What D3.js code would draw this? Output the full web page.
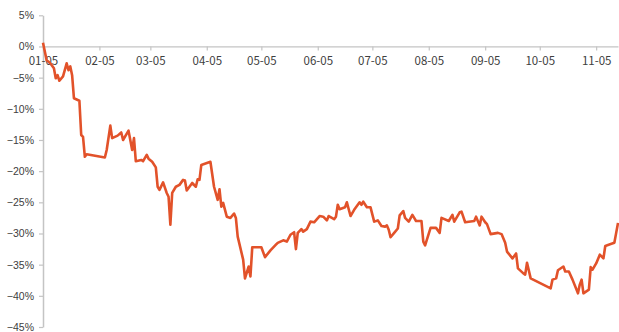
<!DOCTYPE html>
<html>
<head>
<meta charset="utf-8">
<script src="https://cdn.jsdelivr.net/npm/d3@7"></script>
<style>
  body { margin: 0; background: #fff; }
  svg { display: block; }
</style>
</head>
<body>
<svg id="chart" width="619" height="332"></svg>
<script>
// Cumulative return of the portfolio, 2022 (trading days, %)
const year = 2022;
const dates = [
  "01-05","01-07","01-09","01-11","01-12","01-13","01-14","01-16","01-18","01-19",
  "01-20","01-21","01-22","01-25","01-26","01-27","01-28","01-29","02-08","02-09",
  "02-11","02-12","02-15","02-17","02-18","02-21","02-23","02-24","02-25","02-28",
  "03-01","03-03","03-04","03-06","03-08","03-09","03-10","03-12","03-14","03-15",
  "03-16","03-17","03-19","03-21","03-23","03-24","03-25","03-28","03-30","03-31",
  "04-01","04-02","04-07","04-09","04-11","04-12","04-13","04-14","04-16","04-18",
  "04-20","04-21","04-22","04-25","04-26","04-28","04-29","04-30","05-05","05-07",
  "05-10","05-13","05-14","05-17","05-19","05-21","05-23","05-24","05-25","05-27",
  "05-28","05-30","06-01","06-03","06-06","06-08","06-10","06-11","06-14","06-15",
  "06-16","06-17","06-20","06-21","06-23","06-25","06-28","06-29","06-30","07-02",
  "07-04","07-06","07-08","07-10","07-12","07-13","07-14","07-15","07-17","07-19",
  "07-20","07-22","07-23","07-25","07-27","07-28","07-29","08-01","08-02","08-03",
  "08-06","08-09","08-11","08-12","08-16","08-18","08-19","08-22","08-23","08-25",
  "08-30","08-31","09-02","09-03","09-05","09-06","09-08","09-12","09-14","09-16",
  "09-17","09-20","09-22","09-23","09-26","09-27","09-28","09-30","10-11","10-12",
  "10-14","10-15","10-18","10-19","10-21","10-23","10-26","10-27","10-28","10-29",
  "11-01","11-02","11-03","11-05","11-07","11-09","11-10","11-13","11-15","11-16",
  "11-17"
];
const values = [
   0.6, -2.2, -2.7, -3.5, -5.1, -4.6, -5.5, -4.8, -2.7, -3.8,
  -3.2, -4.6, -8.3, -8.7,-14.2,-14.5,-17.7,-17.3,-17.8,-16.6,
 -12.7,-14.7,-14.3,-13.8,-15.0,-13.5,-16.6,-14.7,-18.4,-18.2,
 -18.4,-17.4,-18.0,-18.5,-19.4,-22.5,-23.0,-21.8,-23.5,-24.1,
 -28.6,-23.5,-22.5,-22.2,-21.4,-21.5,-23.1,-21.9,-22.5,-21.3,
 -21.4,-19.0,-18.5,-22.5,-24.6,-22.9,-25.7,-25.1,-27.3,-27.5,
 -26.8,-27.5,-30.5,-34.2,-37.2,-35.3,-36.9,-32.2,-32.2,-33.8,
 -32.7,-31.8,-31.5,-31.1,-31.3,-30.2,-29.8,-32.5,-29.9,-29.3,
 -29.7,-29.3,-28.1,-28.2,-27.2,-27.3,-27.9,-27.2,-27.7,-27.3,
 -25.4,-26.1,-25.8,-25.0,-27.2,-26.2,-25.0,-25.4,-24.9,-25.8,
 -25.8,-28.1,-27.9,-28.8,-28.9,-28.7,-29.4,-30.6,-29.9,-29.2,
 -27.1,-26.4,-27.5,-28.1,-27.0,-27.5,-28.0,-28.0,-31.3,-31.9,
 -29.1,-29.1,-29.9,-27.5,-28.0,-27.0,-28.1,-26.6,-26.5,-28.2,
 -28.0,-27.3,-28.7,-27.3,-28.2,-28.5,-30.1,-29.9,-30.1,-31.5,
 -32.9,-34.0,-33.2,-35.6,-36.4,-36.6,-34.7,-37.2,-38.8,-37.4,
 -37.2,-35.9,-35.3,-36.1,-36.1,-37.4,-39.6,-38.2,-37.4,-39.6,
 -39.0,-35.4,-35.8,-34.8,-33.4,-34.0,-32.0,-31.7,-31.5,-29.9,
 -28.3
];
const xTickLabels = ["01-05","02-05","03-05","04-05","05-05","06-05","07-05","08-05","09-05","10-05","11-05"];
const yTicks = [5, 0, -5, -10, -15, -20, -25, -30, -35, -40, -45];

const parse = d3.timeParse("%Y-%m-%d");
const data = dates.map((d, i) => ({ date: parse(`${year}-${d}`), value: values[i] }));
const xTickDates = xTickLabels.map(l => parse(`${year}-${l}`));

const svg = d3.select("#chart");
const margin = { left: 43, right: 1, top: 15.3, bottom: 5 };
const W = 619, H = 332;

const x = d3.scaleTime()
  .domain(d3.extent(data, d => d.date))
  .range([margin.left, W - margin.right]);
const y = d3.scaleLinear()
  .domain([d3.min(yTicks), d3.max(yTicks)])
  .range([H - margin.bottom, margin.top]);

const axisColor = "#c4c4c4";
const textColor = "#404040";

// y axis
const gy = svg.append("g")
  .attr("transform", `translate(${margin.left},0)`)
  .call(d3.axisLeft(y).tickValues(yTicks).tickSize(4).tickSizeOuter(0).tickPadding(5)
    .tickFormat(d => d3.format("d")(d) + "%"));
gy.select(".domain").attr("stroke", axisColor).attr("stroke-width", 1.5);
gy.selectAll(".tick line").attr("stroke", axisColor).attr("stroke-width", 1.2);
gy.selectAll(".tick text")
  .attr("fill", textColor)
  .style("font-family", "'Liberation Sans', Arial, sans-serif")
  .style("font-size", "10.5px");

// x axis at zero
const gx = svg.append("g")
  .attr("transform", `translate(0,${y(0)})`)
  .call(d3.axisBottom(x).tickValues(xTickDates).tickSize(4).tickSizeOuter(0).tickPadding(6)
    .tickFormat((d, i) => xTickLabels[i]));
gx.select(".domain").attr("stroke", axisColor).attr("stroke-width", 1.2);
gx.selectAll(".tick line").attr("stroke", axisColor).attr("stroke-width", 1.2);
gx.selectAll(".tick text")
  .attr("fill", textColor)
  .style("font-family", "'Noto Sans CJK SC', 'Noto Sans', sans-serif")
  .style("font-size", "11.5px");

// return line
const line = d3.line()
  .x(d => x(d.date))
  .y(d => y(d.value));
svg.append("path")
  .datum(data)
  .attr("fill", "none")
  .attr("stroke", "#E2522A")
  .attr("stroke-width", 2.6)
  .attr("stroke-linejoin", "round")
  .attr("d", line);
</script>
</body>
</html>
